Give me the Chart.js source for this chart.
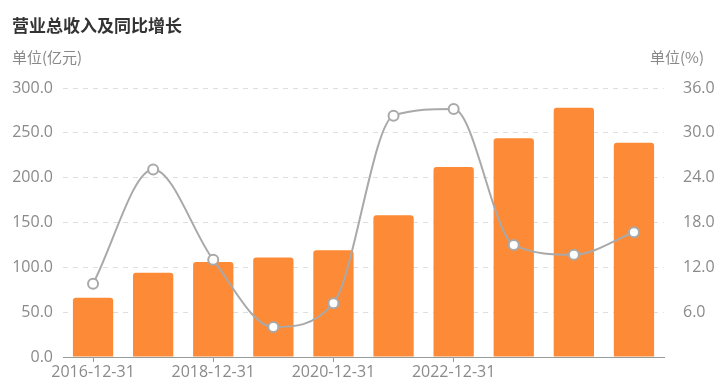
<!DOCTYPE html>
<html>
<head>
<meta charset="utf-8">
<script src="https://cdn.jsdelivr.net/npm/chart.js@4"></script>
<style>
  body { margin: 0; background: #fff; font-family: "Noto Sans CJK SC", sans-serif; }
  #wrap { position: relative; width: 719px; height: 387px; }
  #title { position: absolute; left: 12px; top: 12px; font-size: 17px; font-weight: bold; color: #333; }
  .unit { position: absolute; top: 46px; font-size: 15px; color: #888; }
  #unitL { left: 12px; }
  #unitR { right: 15px; }
</style>
</head>
<body>
<div id="wrap">
  <canvas id="chart" width="719" height="387"></canvas>
  <div id="title">营业总收入及同比增长</div>
  <div class="unit" id="unitL">单位(亿元)</div>
  <div class="unit" id="unitR">单位(%)</div>
</div>
<script>
const dates = ["2016-12-31", "2017-12-31", "2018-12-31", "2019-12-31", "2020-12-31",
  "2021-12-31", "2022-12-31", "2023-12-31", "2024-12-31", "2025-12-31"];
const revenue = [66, 94, 106, 111, 119, 158, 212, 244, 278, 239];
const growth = [9.8, 25.1, 13.0, 4.0, 7.2, 32.3, 33.2, 15.0, 13.7, 16.7];
const shownLabels = ["2016-12-31", "2018-12-31", "2020-12-31", "2022-12-31"];

const tickFont = { family: "Open Sans", size: 16 };

new Chart(document.getElementById("chart"), {
  type: "bar",
  data: {
    labels: dates,
    datasets: [
      {
        type: "line",
        label: "同比增长",
        data: growth,
        yAxisID: "y1",
        borderColor: "#a9a9a9",
        borderWidth: 2,
        cubicInterpolationMode: "monotone",
        pointRadius: 5,
        pointBackgroundColor: "#fff",
        pointBorderColor: "#a9a9a9",
        pointBorderWidth: 2,
        order: 0
      },
      {
        label: "营业总收入",
        data: revenue,
        yAxisID: "y",
        backgroundColor: "#fd8a36",
        borderRadius: { topLeft: 3, topRight: 3 },
        borderSkipped: "bottom",
        barPercentage: 0.67,
        categoryPercentage: 1,
        order: 1
      }
    ]
  },
  options: {
    responsive: false,
    animation: false,
    layout: { padding: { top: 88, left: 0, right: 0, bottom: 0 } },
    plugins: { legend: { display: false }, tooltip: { enabled: false } },
    scales: {
      x: {
        grid: {
          offset: false,
          drawOnChartArea: false,
          tickLength: 5,
          color: ctx => (ctx.index % 2 === 0 && ctx.index < 8 ? "#999" : "transparent")
        },
        border: { color: "#999", width: 1 },
        ticks: {
          autoSkip: false,
          maxRotation: 0,
          color: "#8a8a8a",
          font: tickFont,
          padding: 1,
          callback: function (v) {
            const l = this.getLabelForValue(v);
            return shownLabels.includes(l) ? l : "";
          }
        },
        afterFit: s => { s.height = 30; }
      },
      y: {
        position: "left",
        min: 0,
        max: 300,
        ticks: {
          stepSize: 50,
          color: "#8a8a8a",
          font: tickFont,
          padding: 10,
          callback: v => v.toFixed(1)
        },
        grid: { color: "#dedede", drawTicks: false },
        border: { display: false, dash: [5, 5] },
        afterFit: s => { s.width = 63; }
      },
      y1: {
        position: "right",
        min: 0,
        max: 36,
        ticks: {
          stepSize: 6,
          color: "#8a8a8a",
          font: tickFont,
          padding: 11,
          callback: v => (v === 0 ? "" : v.toFixed(1))
        },
        grid: { display: false },
        border: { display: false },
        afterFit: s => { s.width = 55; }
      }
    }
  }
});
</script>
</body>
</html>
